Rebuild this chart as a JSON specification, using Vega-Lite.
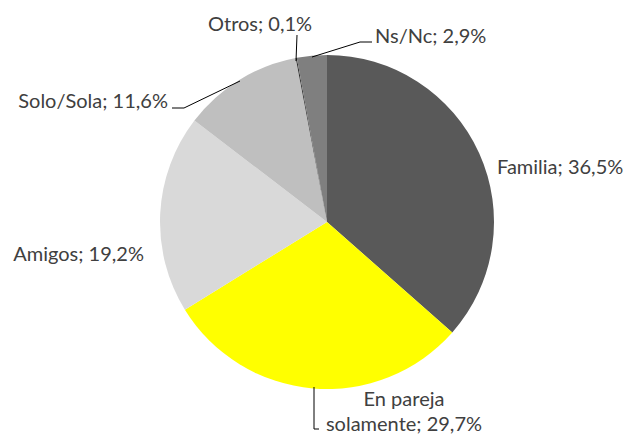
{
  "$schema": "https://vega.github.io/schema/vega-lite/v6.json",
  "autosize": "none",
  "width": 600,
  "height": 400,
  "padding": {"left": 27, "top": 22, "right": 0, "bottom": 12},
  "background": "white",
  "config": {"view": {"stroke": null}},
  "datasets": {
    "slices": [
      {"cat": "Familia", "pct": 36.5, "ord": 1},
      {"cat": "En pareja solamente", "pct": 29.7, "ord": 2},
      {"cat": "Amigos", "pct": 19.2, "ord": 3},
      {"cat": "Solo/Sola", "pct": 11.6, "ord": 4},
      {"cat": "Otros", "pct": 0.1, "ord": 5},
      {"cat": "Ns/Nc", "pct": 2.9, "ord": 6}
    ],
    "labels": [
      {"label": "Familia; 36,5%", "lx": 1.02, "ly": 0.324, "side": "left"},
      {"label": "Ns/Nc; 2,9%", "lx": 0.288, "ly": 1.11, "side": "left"},
      {"label": "Otros; 0,1%", "lx": -0.714, "ly": 1.182, "side": "left"},
      {"label": "Amigos; 19,2%", "lx": -1.098, "ly": -0.198, "side": "right"},
      {"label": "Solo/Sola; 11,6%", "lx": -0.954, "ly": 0.72, "side": "right"},
      {"label": "En pareja\nsolamente; 29,7%", "lx": 0.462, "ly": -1.068, "side": "center"}
    ],
    "leaders": [
      {"g": "Solo", "s": 1, "lx": -0.93, "ly": 0.684},
      {"g": "Solo", "s": 2, "lx": -0.858, "ly": 0.684},
      {"g": "Solo", "s": 3, "lx": -0.522, "ly": 0.846},
      {"g": "Otros", "s": 1, "lx": -0.18, "ly": 1.122},
      {"g": "Otros", "s": 2, "lx": -0.186, "ly": 0.966},
      {"g": "NsNc", "s": 1, "lx": -0.09, "ly": 0.99},
      {"g": "NsNc", "s": 2, "lx": 0.198, "ly": 1.08},
      {"g": "NsNc", "s": 3, "lx": 0.27, "ly": 1.08},
      {"g": "Pareja", "s": 1, "lx": -0.078, "ly": -0.99},
      {"g": "Pareja", "s": 2, "lx": -0.078, "ly": -1.242},
      {"g": "Pareja", "s": 3, "lx": -0.048, "ly": -1.242}
    ]
  },
  "layer": [
    {
      "data": {"name": "slices"},
      "mark": {"type": "arc", "outerRadius": 167},
      "encoding": {
        "theta": {"field": "pct", "type": "quantitative", "stack": true},
        "order": {"field": "ord", "type": "quantitative"},
        "color": {
          "field": "cat",
          "type": "nominal",
          "legend": null,
          "scale": {
            "domain": ["Familia", "En pareja solamente", "Amigos", "Solo/Sola", "Otros", "Ns/Nc"],
            "range": ["#595959", "#FFFF00", "#D9D9D9", "#BFBFBF", "#262626", "#7F7F7F"]
          }
        }
      }
    },
    {
      "data": {"name": "leaders"},
      "mark": {"type": "line", "color": "#000000", "strokeWidth": 1},
      "encoding": {
        "x": {"field": "lx", "type": "quantitative", "scale": {"domain": [-1.8, 1.8], "nice": false, "zero": false}, "axis": null},
        "y": {"field": "ly", "type": "quantitative", "scale": {"domain": [-1.2, 1.2], "nice": false, "zero": false}, "axis": null},
        "detail": {"field": "g"},
        "order": {"field": "s", "type": "quantitative"}
      }
    },
    {
      "data": {"name": "labels"},
      "transform": [{"filter": "datum.side === 'left'"}],
      "mark": {"type": "text", "align": "left", "baseline": "middle", "font": "Lato", "fontSize": 20, "color": "#404040"},
      "encoding": {
        "x": {"field": "lx", "type": "quantitative", "scale": {"domain": [-1.8, 1.8], "nice": false, "zero": false}, "axis": null},
        "y": {"field": "ly", "type": "quantitative", "scale": {"domain": [-1.2, 1.2], "nice": false, "zero": false}, "axis": null},
        "text": {"field": "label"}
      }
    },
    {
      "data": {"name": "labels"},
      "transform": [{"filter": "datum.side === 'right'"}],
      "mark": {"type": "text", "align": "right", "baseline": "middle", "font": "Lato", "fontSize": 20, "color": "#404040"},
      "encoding": {
        "x": {"field": "lx", "type": "quantitative", "scale": {"domain": [-1.8, 1.8], "nice": false, "zero": false}, "axis": null},
        "y": {"field": "ly", "type": "quantitative", "scale": {"domain": [-1.2, 1.2], "nice": false, "zero": false}, "axis": null},
        "text": {"field": "label"}
      }
    },
    {
      "data": {"name": "labels"},
      "transform": [{"filter": "datum.side === 'center'"}],
      "mark": {"type": "text", "align": "center", "baseline": "middle", "font": "Lato", "fontSize": 20, "color": "#404040", "lineBreak": "\n", "lineHeight": 25},
      "encoding": {
        "x": {"field": "lx", "type": "quantitative", "scale": {"domain": [-1.8, 1.8], "nice": false, "zero": false}, "axis": null},
        "y": {"field": "ly", "type": "quantitative", "scale": {"domain": [-1.2, 1.2], "nice": false, "zero": false}, "axis": null},
        "text": {"field": "label"}
      }
    }
  ]
}
